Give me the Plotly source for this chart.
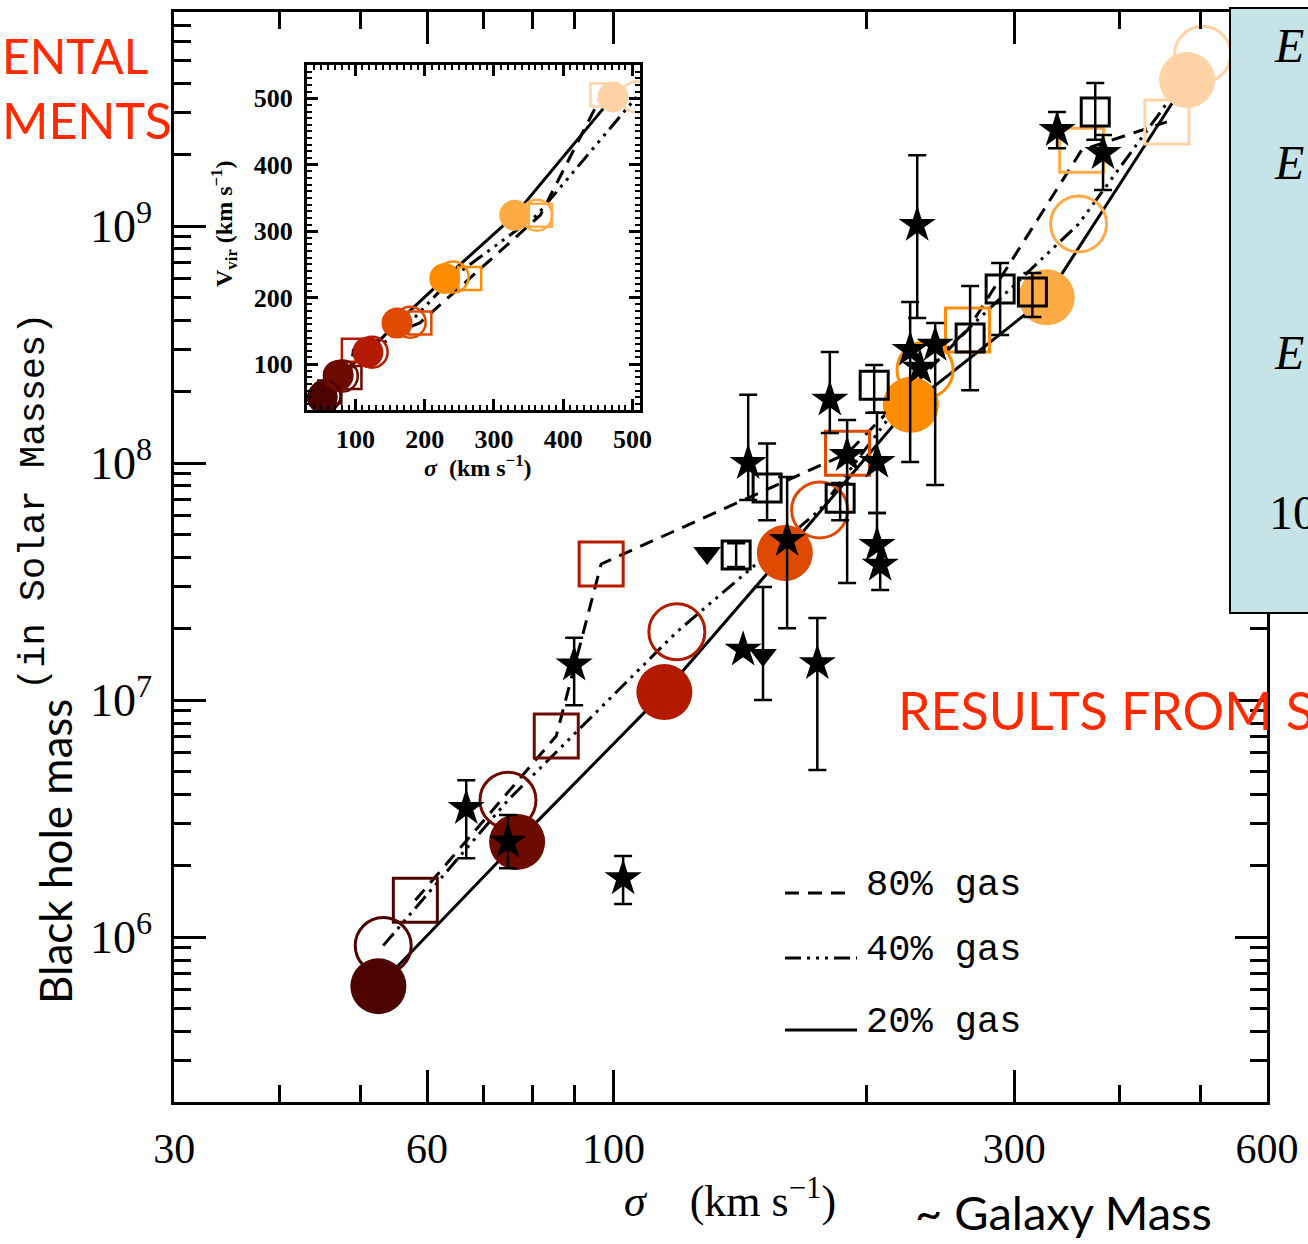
import numpy as np
import plotly.graph_objects as go

W, H = 1308, 1244


def px(x):
    return x / W


def py(y):
    return 1 - y / H


# ---------------- DATA ----------------
# simulation colours (early -> late / low -> high mass)
sim_colors = ["#4d0400", "#6e0b00", "#b31a00", "#e04a00", "#ff8c00", "#ffab45", "#ffd3a5"]

# 20% gas (filled circles, solid line)
sigma_20 = [52.5, 76.8, 115, 160, 226, 328, 482]
mbh_20 = [6.2e5, 2.52e6, 1.08e7, 4.17e7, 1.76e8, 5.0e8, 4.13e9]
# 40% gas (open circles, dash-dot-dot-dot line)
sigma_40 = [53.2, 74.9, 119, 176, 235, 358, 503]
mbh_40 = [9.2e5, 3.78e6, 1.94e7, 6.34e7, 2.47e8, 1.02e9, 5.3e9]
# 80% gas (open squares, dashed line)
sigma_80 = [58.1, 85.5, 96.7, 190, 264, 361, 456]
mbh_80 = [1.43e6, 7.05e6, 3.75e7, 1.10e8, 3.64e8, 2.09e9, 2.75e9]

# observed black holes: stars with error bars
star_sigma = [66.8, 74.9, 89.8, 102.7, 144.7, 161, 174.9, 181, 189.8, 206, 206, 207.8, 225.6, 241.6, 230, 337.5, 382.8]
star_mbh = [3.5e6, 2.52e6, 1.41e7, 1.77e6, 1.0e8, 4.73e7, 1.43e7, 1.85e8, 1.08e8, 1.01e8, 4.51e7, 3.72e7, 3.0e8, 3.15e8, 1.01e9, 2.54e9, 2.03e9]
star_hi = [4.59e6, 3.27e6, 1.83e7, 2.2e6, 1.94e8, 8.73e7, 2.22e7, 2.94e8, 1.52e8, 1.63e8, 6.15e7, 3.72e7, 4.78e8, 3.9e8, 1.99e9, 3.03e9, 2.42e9]
star_lo = [2.15e6, 1.95e6, 9.5e6, 1.38e6, 6.98e7, 2.01e7, 5.07e6, 1.34e8, 3.12e7, 6.15e7, 4.51e7, 2.91e7, 1.01e8, 8.07e7, 4.09e8, 2.13e9, 1.42e9]
# stars without error bars
star2_sigma = [142.7, 231.8]
star2_mbh = [1.63e7, 2.52e8]

# observed black holes: open squares with error bars
sq_sigma = [140, 152.4, 186.2, 204.4, 265.9, 288.7, 315.4, 374.7]
sq_mbh = [4.09e7, 7.85e7, 7.11e7, 2.13e8, 3.37e8, 5.42e8, 5.27e8, 3.03e9]
sq_hi = [4.59e7, 1.21e8, 8.24e7, 2.59e8, 5.58e8, 6.98e8, 6.34e8, 4.01e9]
sq_lo = [3.64e7, 5.74e7, 5.74e7, 1.63e8, 2.03e8, 3.47e8, 4.13e8, 2.31e9]

# observed: downward triangles
tri_sigma = [129.3, 150.7]
tri_mbh = [4.17e7, 1.55e7]
tri_hi = [4.17e7, 3.0e7]
tri_lo = [4.17e7, 1.0e7]

# inset: V_vir vs sigma
in_sigma_20 = [52, 75, 118, 160, 229, 330, 472]
in_vvir_20 = [50, 83, 118, 162, 229, 324, 502]
in_sigma_40 = [56, 81, 124, 179, 241, 362, 506]
in_vvir_40 = [52, 82, 118, 163, 231, 324, 502]
in_sigma_80 = [63, 92, 97, 193, 265, 367, 456]
in_vvir_80 = [58, 80, 121, 162, 229, 324, 505]

x_ticks = [30, 60, 100, 300, 600]
x_minor = [40, 50, 70, 80, 90, 200, 400, 500]
y_ticks = [1e6, 1e7, 1e8, 1e9]
y_ticktext = ["10<sup>6</sup>", "10<sup>7</sup>", "10<sup>8</sup>", "10<sup>9</sup>"]
y_minor = [k * 10.0 ** e for e in range(5, 10) for k in range(2, 10)]
legend_labels = ["80% gas", "40% gas", "20% gas"]

# ---------------- STYLES ----------------
DASH = "14px,9px"
DASHDOT3 = "16px,6px,3px,6px,3px,6px,3px,6px"
SERIF = "Liberation Serif"
MONO = "Liberation Mono"
COMIC = "Lato"

fig = go.Figure()


def err(vals, hi, lo):
    return dict(type="data", symmetric=False,
                array=[h - v for h, v in zip(hi, vals)],
                arrayminus=[v - l for v, l in zip(vals, lo)],
                color="black", thickness=2.5, width=9)


# main lines
for xs, ys, dash in [(sigma_80, mbh_80, DASH), (sigma_40, mbh_40, DASHDOT3), (sigma_20, mbh_20, "solid")]:
    fig.add_trace(go.Scatter(x=xs, y=ys, mode="lines",
                             line=dict(color="black", width=3, dash=dash), hoverinfo="skip"))

# simulation markers
fig.add_trace(go.Scatter(x=sigma_20, y=mbh_20, mode="markers",
                         marker=dict(symbol="circle", size=56, color=sim_colors, line=dict(width=0))))
fig.add_trace(go.Scatter(x=sigma_40, y=mbh_40, mode="markers",
                         marker=dict(symbol="circle-open", size=56, color=sim_colors,
                                     line=dict(width=3, color=sim_colors))))
fig.add_trace(go.Scatter(x=sigma_80, y=mbh_80, mode="markers",
                         marker=dict(symbol="square-open", size=44, color=sim_colors,
                                     line=dict(width=3, color=sim_colors))))

# observations
fig.add_trace(go.Scatter(x=sq_sigma, y=sq_mbh, mode="markers",
                         error_y=err(sq_mbh, sq_hi, sq_lo),
                         marker=dict(symbol="square-open", size=28, color="black",
                                     line=dict(width=3, color="black"))))
fig.add_trace(go.Scatter(x=tri_sigma, y=tri_mbh, mode="markers",
                         error_y=err(tri_mbh, tri_hi, tri_lo),
                         marker=dict(symbol="triangle-down", size=24, color="black")))
fig.add_trace(go.Scatter(x=star_sigma, y=star_mbh, mode="markers",
                         error_y=err(star_mbh, star_hi, star_lo),
                         marker=dict(symbol="star", size=28, color="black")))
fig.add_trace(go.Scatter(x=star2_sigma, y=star2_mbh, mode="markers",
                         marker=dict(symbol="star", size=28, color="black")))

# inset
for xs, ys, dash in [(in_sigma_80, in_vvir_80, DASH), (in_sigma_40, in_vvir_40, DASHDOT3), (in_sigma_20, in_vvir_20, "solid")]:
    fig.add_trace(go.Scatter(x=xs, y=ys, mode="lines", xaxis="x2", yaxis="y2",
                             line=dict(color="black", width=3, dash=dash), hoverinfo="skip"))
fig.add_trace(go.Scatter(x=in_sigma_80, y=in_vvir_80, mode="markers", xaxis="x2", yaxis="y2",
                         marker=dict(symbol="square-open", size=23, color=sim_colors,
                                     line=dict(width=2.5, color=sim_colors))))
fig.add_trace(go.Scatter(x=in_sigma_20, y=in_vvir_20, mode="markers", xaxis="x2", yaxis="y2",
                         marker=dict(symbol="circle", size=31, color=sim_colors, line=dict(width=0))))
fig.add_trace(go.Scatter(x=in_sigma_40, y=in_vvir_40, mode="markers", xaxis="x2", yaxis="y2",
                         marker=dict(symbol="circle-open", size=31, color=sim_colors,
                                     line=dict(width=2.5, color=sim_colors))))

axis_common = dict(showline=True, linecolor="black", mirror="allticks", showgrid=False,
                   zeroline=False, ticks="inside", tickcolor="black", automargin=False)

fig.update_layout(
    width=W, height=H, margin=dict(l=0, r=0, t=0, b=0, autoexpand=False),
    paper_bgcolor="white", plot_bgcolor="white", showlegend=False,
    xaxis=dict(type="log", range=[np.log10(29.98), np.log10(600.05)], domain=[px(174), px(1267)],
               anchor="y", tickvals=x_ticks, ticktext=[str(v) for v in x_ticks],
               ticklen=32, tickwidth=2.5, linewidth=2.5,
               minor=dict(tickvals=x_minor, ticks="inside", ticklen=17, tickwidth=2.5,
                          tickcolor="black", showgrid=False),
               tickfont=dict(family=SERIF, size=42, color="black"), ticklabelstandoff=8,
               **axis_common),
    yaxis=dict(type="log", range=[5.304, 9.903], domain=[py(1102), py(12)],
               anchor="x", tickvals=y_ticks, ticktext=y_ticktext,
               ticklen=32, tickwidth=2.5, linewidth=2.5,
               minor=dict(tickvals=y_minor, ticks="inside", ticklen=17, tickwidth=2.5,
                          tickcolor="black", showgrid=False),
               tickfont=dict(family=SERIF, size=46, color="black"), ticklabelstandoff=10,
               **axis_common),
    xaxis2=dict(range=[30, 511], domain=[px(307), px(640)], anchor="y2",
                tickvals=[100, 200, 300, 400, 500], ticklen=11, tickwidth=2.5, linewidth=3,
                minor=dict(dtick=10, tick0=0, ticks="inside", ticklen=5, tickwidth=1.5, tickcolor="black"),
                tickfont=dict(family=SERIF, size=26, color="black", weight="bold"), ticklabelstandoff=4,
                **axis_common),
    yaxis2=dict(range=[31, 550], domain=[py(410), py(65)], anchor="x2",
                tickvals=[100, 200, 300, 400, 500], ticklen=11, tickwidth=2.5, linewidth=3,
                minor=dict(dtick=10, tick0=0, ticks="inside", ticklen=5, tickwidth=1.5, tickcolor="black"),
                tickfont=dict(family=SERIF, size=26, color="black", weight="bold"), ticklabelstandoff=6,
                **axis_common),
)

# ---------- legend (line samples + labels) ----------
shapes = []
for (y, dash, x1) in [(893, DASH, 850), (958, DASHDOT3, 857), (1030, "solid", 857)]:
    shapes.append(dict(type="line", xref="paper", yref="paper", x0=px(785), x1=px(x1),
                       y0=py(y), y1=py(y), line=dict(color="black", width=3, dash=dash)))
# right-hand blue panel
shapes.append(dict(type="rect", xref="paper", yref="paper", x0=px(1230), x1=px(1330),
                   y0=py(613), y1=py(8), fillcolor="#c6e3e7", line=dict(color="black", width=2),
                   layer="above"))
fig.update_layout(shapes=shapes)

ann = []
for lab, y in zip(legend_labels, [885, 950, 1022]):
    ann.append(dict(text=lab, x=px(864), y=py(y), xanchor="left", yanchor="middle",
                    font=dict(family=MONO, size=37, color="black")))

NB = "\u00a0"
ann += [
    dict(text="<i>σ</i>" + NB * 4 + "(km" + NB + "s<sup>−1</sup>)", x=px(730), y=py(1198), xanchor="center",
         yanchor="middle", font=dict(family=SERIF, size=44, color="black")),
    dict(text="~ Galaxy Mass", x=px(913), y=py(1212), xanchor="left", yanchor="middle",
         font=dict(family=COMIC, size=47, color="black")),
    dict(text="Black hole mass", x=px(55), y=py(852), textangle=-90, xanchor="center",
         yanchor="middle", font=dict(family=COMIC, size=44, color="black")),
    dict(text="(in Solar Masses)", x=px(34), y=py(502), textangle=-90, xanchor="center",
         yanchor="middle", font=dict(family=MONO, size=37, color="black")),
    dict(text="ENTAL", x=px(0), y=py(55), xanchor="left", yanchor="middle",
         font=dict(family=COMIC, size=48, color="#ff2a00")),
    dict(text="MENTS", x=px(0), y=py(120), xanchor="left", yanchor="middle",
         font=dict(family=COMIC, size=50, color="#ff2a00")),
    dict(text="RESULTS FROM S", x=px(896), y=py(710), xanchor="left", yanchor="middle",
         font=dict(family=COMIC, size=52, color="#ff2a00")),
    # inset axis titles
    dict(text="<i>σ</i>" + NB * 2 + "(km s<sup>−1</sup>)", x=px(478), y=py(466), xanchor="center",
         yanchor="middle", font=dict(family=SERIF, size=24, color="black", weight="bold")),
    dict(text="V<sub>vir</sub> (km s<sup>−1</sup>)", x=px(224), y=py(224), textangle=-90,
         xanchor="center", yanchor="middle", font=dict(family=SERIF, size=24, color="black", weight="bold")),
    # blue panel text (cut off at the right edge, as in the reference)
    dict(text="<i>E</i>", x=px(1272), y=py(45), xanchor="left", yanchor="middle",
         font=dict(family=SERIF, size=48, color="black")),
    dict(text="<i>E</i>", x=px(1272), y=py(163), xanchor="left", yanchor="middle",
         font=dict(family=SERIF, size=48, color="black")),
    dict(text="<i>E</i>", x=px(1272), y=py(352), xanchor="left", yanchor="middle",
         font=dict(family=SERIF, size=48, color="black")),
    dict(text="10", x=px(1267), y=py(512), xanchor="left", yanchor="middle",
         font=dict(family=SERIF, size=48, color="black")),
]
for a in ann:
    a.setdefault("xref", "paper")
    a.setdefault("yref", "paper")
    a.setdefault("showarrow", False)
fig.update_layout(annotations=ann)

fig.write_html("out.html")
